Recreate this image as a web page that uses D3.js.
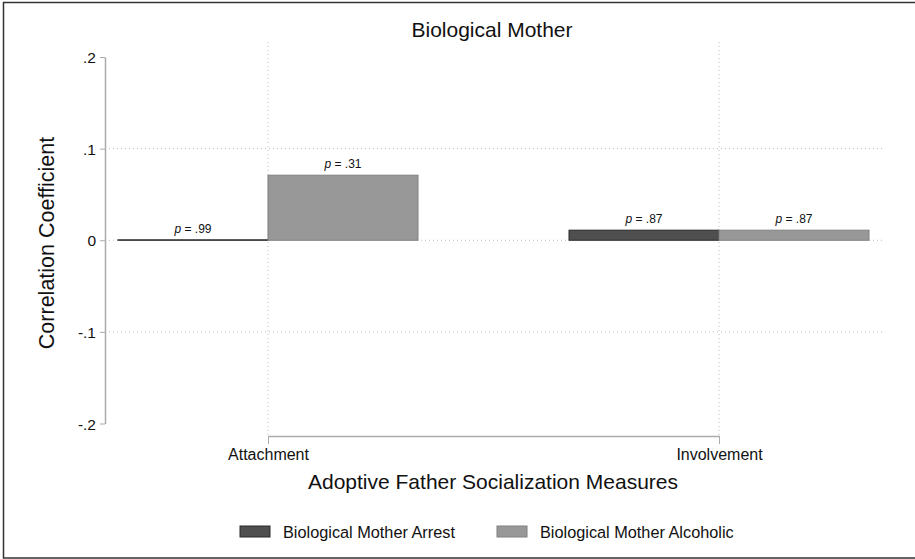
<!DOCTYPE html>
<html>
<head>
<meta charset="utf-8">
<script src="https://cdn.jsdelivr.net/npm/d3@7"></script>
<style>
  body { margin: 0; background: #fff; }
  text { font-family: "Liberation Sans", Arial, sans-serif; fill: #111; }
</style>
</head>
<body>
<svg width="915" height="559"></svg>
<script>
var measures = ["Attachment", "Involvement"];
var seriesNames = ["Biological Mother Arrest", "Biological Mother Alcoholic"];
var arrestValues = [0.0005, 0.011];
var alcoholicValues = [0.071, 0.011];
var arrestP = [".99", ".87"];
var alcoholicP = [".31", ".87"];
var yTicks = [-0.2, -0.1, 0, 0.1, 0.2];
var yTickLabels = ["-.2", "-.1", "0", ".1", ".2"];

var svg = d3.select("svg"),
    width = +svg.attr("width"),
    height = +svg.attr("height");

var color = d3.scaleOrdinal()
    .domain(seriesNames)
    .range(["#4f4f4f", "#989898"]);
var strokeColor = d3.scaleOrdinal()
    .domain(seriesNames)
    .range(["#2a2a2a", "#808080"]);

// outer frame (right side runs off the picture)
svg.append("rect")
    .attr("x", 3.5).attr("y", 2.5)
    .attr("width", width + 10).attr("height", 555.5)
    .attr("fill", "none").attr("stroke", "#333").attr("stroke-width", 1.5);

var x = d3.scalePoint().domain(measures).range([268, 719]);
var barW = 150;
var y = d3.scaleLinear().domain([-0.2, 0.2]).range([423.5, 57]);

var data = [];
measures.forEach(function(m, i) {
  data.push({ m: m, s: seriesNames[0], v: arrestValues[i], p: arrestP[i], off: -barW });
  data.push({ m: m, s: seriesNames[1], v: alcoholicValues[i], p: alcoholicP[i], off: 0 });
});

// grid
var grid = svg.append("g").attr("stroke", "#bbb").attr("stroke-dasharray", "1,3");
grid.selectAll("line.h")
    .data([-0.1, 0, 0.1])
    .enter().append("line")
      .attr("x1", 109).attr("x2", 883)
      .attr("y1", function(d) { return y(d); })
      .attr("y2", function(d) { return y(d); });
grid.selectAll("line.v")
    .data(measures)
    .enter().append("line")
      .attr("x1", function(d) { return x(d); })
      .attr("x2", function(d) { return x(d); })
      .attr("y1", 42).attr("y2", 436);

// bars
svg.append("g").selectAll("rect")
    .data(data)
    .enter().append("rect")
      .attr("x", function(d) { return x(d.m) + d.off; })
      .attr("y", function(d) { return y(d.v); })
      .attr("width", barW)
      .attr("height", function(d) { return Math.max(0.5, y(0) - y(d.v)); })
      .attr("fill", function(d) { return color(d.s); })
      .attr("stroke", function(d) { return strokeColor(d.s); })
      .attr("stroke-width", 1);

// p labels
var pl = svg.append("g").selectAll("text")
    .data(data)
    .enter().append("text")
      .attr("x", function(d) { return x(d.m) + d.off + barW / 2; })
      .attr("y", function(d) { return y(d.v) - 7; })
      .attr("text-anchor", "middle")
      .style("font-size", "12px");
pl.append("tspan").style("font-style", "italic").text("p");
pl.append("tspan").text(function(d) { return " = " + d.p; });

// y axis
var yAxis = d3.axisLeft(y)
    .tickValues(yTicks)
    .tickFormat(function(d, i) { return yTickLabels[i]; })
    .tickSize(5).tickSizeOuter(0);
var gy = svg.append("g").attr("transform", "translate(105,0)").call(yAxis);
gy.select(".domain").attr("stroke", "#aaa").attr("stroke-width", 1.5);
gy.selectAll(".tick line").attr("stroke", "#aaa");
gy.selectAll(".tick text").attr("x", -9).attr("dy", "0.36em")
    .style("font-size", "15.5px").style("font-family", "Liberation Sans, Arial, sans-serif").attr("fill", "#111");

// x axis
var xAxis = d3.axisBottom(x).tickSize(8).tickSizeOuter(0);
var gx = svg.append("g").attr("transform", "translate(0,436)").call(xAxis);
gx.select(".domain").attr("stroke", "#aaa").attr("stroke-width", 1.5);
gx.selectAll(".tick line").attr("stroke", "#aaa");
gx.selectAll(".tick text").attr("y", 13)
    .style("font-size", "16px").style("font-family", "Liberation Sans, Arial, sans-serif").attr("fill", "#111");

// titles
svg.append("text")
    .attr("x", 492).attr("y", 36.5)
    .attr("text-anchor", "middle")
    .style("font-size", "21px")
    .text("Biological Mother");

svg.append("text")
    .attr("transform", "translate(54,243) rotate(-90)")
    .attr("text-anchor", "middle")
    .style("font-size", "21.5px")
    .text("Correlation Coefficient");

svg.append("text")
    .attr("x", 493).attr("y", 488.5)
    .attr("text-anchor", "middle")
    .style("font-size", "21px")
    .text("Adoptive Father Socialization Measures");

// legend
var legendX = [240, 497];
var lg = svg.append("g").selectAll("g")
    .data(seriesNames)
    .enter().append("g")
      .attr("transform", function(d, i) { return "translate(" + legendX[i] + ",526)"; });
lg.append("rect")
    .attr("width", 30).attr("height", 11)
    .attr("fill", function(d) { return color(d); })
    .attr("stroke", function(d) { return strokeColor(d); });
lg.append("text")
    .attr("x", 43).attr("y", 12)
    .style("font-size", "16.3px")
    .text(function(d) { return d; });
</script>
</body>
</html>
